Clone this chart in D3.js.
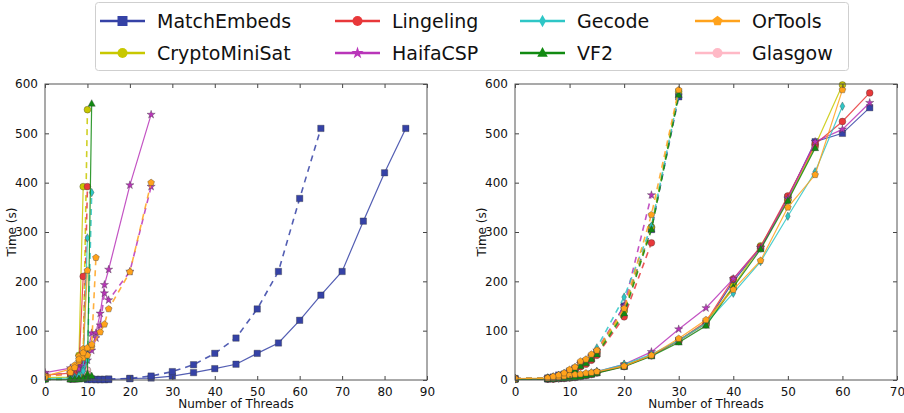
<!DOCTYPE html>
<html><head><meta charset="utf-8">
<script src="https://cdn.jsdelivr.net/npm/d3@7"></script>
<style>
body{margin:0;background:#fff;}
svg text{font-family:"DejaVu Sans",sans-serif;fill:#111;}
</style></head>
<body><svg id="c" width="904" height="413"></svg>
<script>
// ---------- DATA ----------
const solvers = ["MatchEmbeds","CryptoMiniSat","Lingeling","HaifaCSP","Gecode","VF2","OrTools","Glasgow"];
const leftXTicks = [0,10,20,30,40,50,60,70,80,90];
const rightXTicks = [0,10,20,30,40,50,60,70];
const yTicks = [0,100,200,300,400,500,600];
const xLabel = "Number of Threads";
const yLabel = "Time (s)";

// left panel, solid series  [threads, seconds]
const leftSolid = {
  Glasgow:      [[0,2],[6,2],[7,3],[8,4],[9,6],[10,20]],
  MatchEmbeds:  [[10,2],[11,2],[12,1],[13,1],[14,1],[15,1],[20,3],[25,4],[30,8],[35,15],[40,23],[45,32],[50,54],[55,75],[60,121],[65,172],[70,220],[75,322],[80,420],[85,510]],
  CryptoMiniSat:[[0,5],[6,6],[7,8],[8,50],[9,392]],
  Lingeling:    [[0,10],[6,14],[7,20],[8,28],[9,210]],
  HaifaCSP:     [[0,15],[6,24],[8,30],[9,40],[10,55],[11,95],[12,95],[13,135],[14,193],[15,224],[20,395],[25,538]],
  Gecode:       [[0,3],[6,4],[7,6],[8,10],[9,22],[10,288]],
  VF2:          [[0,1],[6,1],[7,1],[8,2],[9,3],[10,12],[11,560]],
  OrTools:      [[0,8],[6,22],[7,30],[8,48],[9,63],[10,222]]
};
// left panel, dashed series
const leftDashed = {
  Glasgow:      [[0,1],[6,2],[7,2],[8,3],[9,5],[10,12]],
  MatchEmbeds:  [[10,1],[11,1],[12,1],[13,1],[14,1],[15,2],[20,3],[25,8],[30,17],[35,31],[40,54],[45,85],[50,144],[55,220],[60,368],[65,510]],
  CryptoMiniSat:[[0,3],[6,4],[7,6],[8,10],[9,45],[10,548]],
  Lingeling:    [[0,8],[6,12],[7,16],[8,22],[9,30],[10,392]],
  HaifaCSP:     [[0,10],[6,14],[8,22],[9,30],[10,40],[11,60],[12,85],[13,111],[14,176],[15,162],[20,220],[25,392]],
  Gecode:       [[0,2],[6,3],[7,4],[8,8],[9,18],[10,40],[11,380]],
  VF2:          [[0,1],[6,1],[7,1],[8,1],[9,2],[10,4],[11,8]],
  OrTools:      [[0,5],[6,15],[7,25],[8,38],[9,45],[10,50],[11,67],[13,97],[14,113],[15,144],[20,219],[25,400]]
};
const leftDashedExtra = {
  OrTools:      [[8,42],[9,55],[10,65],[11,72],[12,248]]
};
// right panel, solid series
const rightSolid = {
  Glasgow:      [[0,2],[6,2],[7,2],[8,3],[9,3],[10,4],[11,5],[12,7],[13,9],[14,11],[15,14],[20,27],[25,49],[30,78],[35,112],[40,190],[45,266],[50,365],[55,472]],
  MatchEmbeds:  [[0,2],[6,2],[7,3],[8,3],[9,4],[10,5],[11,6],[12,8],[13,10],[14,12],[15,15],[20,28],[25,50],[30,80],[35,115],[40,200],[45,268],[50,370],[55,483],[60,500],[65,552]],
  CryptoMiniSat:[[0,2],[6,3],[7,3],[8,4],[9,5],[10,6],[11,7],[12,9],[13,11],[14,13],[15,16],[20,30],[25,50],[30,80],[35,115],[40,190],[45,272],[50,365],[55,475],[60,598]],
  Lingeling:    [[0,2],[6,2],[7,2],[8,3],[9,4],[10,5],[11,6],[12,8],[13,10],[14,12],[15,15],[20,28],[25,50],[30,80],[35,118],[40,205],[45,270],[50,373],[55,478],[60,524],[65,582]],
  HaifaCSP:     [[0,2],[6,3],[7,3],[8,4],[9,5],[10,6],[11,7],[12,9],[13,11],[14,14],[15,17],[20,32],[25,57],[30,103],[35,146],[40,205],[45,268],[50,368],[55,483],[60,508],[65,562]],
  Gecode:       [[0,2],[6,3],[7,3],[8,4],[9,5],[10,6],[11,7],[12,9],[13,11],[14,14],[15,17],[20,32],[25,52],[30,80],[35,115],[40,176],[45,240],[50,332],[55,422],[60,555]],
  VF2:          [[0,1],[6,2],[7,2],[8,3],[9,3],[10,4],[11,5],[12,7],[13,9],[14,11],[15,14],[20,27],[25,48],[30,76],[35,110],[40,188],[45,265],[50,363],[55,470]],
  OrTools:      [[0,3],[6,4],[7,5],[8,6],[9,8],[10,10],[11,11],[12,12],[13,14],[14,15],[15,17],[20,28],[25,50],[30,84],[35,122],[40,183],[45,242],[50,350],[55,416],[60,588]]
};
// right panel, dashed series
const rightDashed = {
  Glasgow:      [[0,3],[6,4],[7,5],[8,8],[9,11],[10,17],[11,23],[12,30],[13,37],[14,45],[15,55],[20,140],[25,310],[30,580]],
  MatchEmbeds:  [[0,3],[6,4],[7,6],[8,10],[9,12],[10,18],[11,24],[12,32],[13,38],[14,46],[15,56],[20,150],[25,305],[30,574]],
  CryptoMiniSat:[[0,3],[6,4],[7,5],[8,8],[9,11],[10,17],[11,22],[12,31],[13,37],[14,45],[15,55],[20,140],[25,310],[30,585]],
  Lingeling:    [[0,2],[6,3],[7,5],[8,7],[9,10],[10,15],[11,20],[12,27],[13,32],[14,40],[15,50],[20,128],[25,278]],
  HaifaCSP:     [[0,3],[6,4],[7,6],[8,9],[9,12],[10,18],[11,24],[12,33],[13,39],[14,48],[15,60],[20,150],[25,375]],
  Gecode:       [[0,3],[6,4],[7,6],[8,9],[9,13],[10,19],[11,25],[12,34],[13,40],[14,50],[15,65],[20,168],[25,312],[30,580]],
  VF2:          [[0,2],[6,3],[7,5],[8,7],[9,10],[10,15],[11,20],[12,28],[13,34],[14,42],[15,52],[20,135],[25,305],[30,578]],
  OrTools:      [[0,3],[6,4],[7,7],[8,10],[9,14],[10,21],[11,26],[12,38],[13,42],[14,52],[15,60],[20,145],[25,335],[30,588]]
};

// ---------- STYLE ----------
const colors = {MatchEmbeds:"#3542a6",CryptoMiniSat:"#c8c800",Lingeling:"#e8383a",HaifaCSP:"#b935b9",
  Gecode:"#2ec6c6",VF2:"#118a11",OrTools:"#ffa21c",Glasgow:"#ffb9c6"};
const markers = {MatchEmbeds:"square",CryptoMiniSat:"circle",Lingeling:"circle",HaifaCSP:"star",
  Gecode:"thindiamond",VF2:"triangle",OrTools:"pentagon",Glasgow:"circle"};

function poly(pts){return "M"+pts.map(p=>p[0].toFixed(2)+","+p[1].toFixed(2)).join("L")+"Z";}
function markerPath(type, r){
  if(type==="square") return poly([[-r,-r],[r,-r],[r,r],[-r,r]]);
  if(type==="circle") return d3.symbol(d3.symbolCircle, Math.PI*r*r)();
  if(type==="thindiamond") return poly([[0,-r*1.25],[r*0.7,0],[0,r*1.25],[-r*0.7,0]]);
  if(type==="triangle") return poly([[0,-r*1.2],[r*1.05,r*0.75],[-r*1.05,r*0.75]]);
  if(type==="pentagon"){const p=[];for(let i=0;i<5;i++){const a=-Math.PI/2+i*2*Math.PI/5;p.push([r*1.05*Math.cos(a),r*1.05*Math.sin(a)]);}return poly(p);}
  if(type==="star") return d3.symbol(d3.symbolStar, r*r*1.3)();
  return "";
}

const svg = d3.select("#c");

// ---------- LEGEND ----------
svg.append("rect").attr("x",95.5).attr("y",2.5).attr("width",753).attr("height",68)
  .attr("rx",3).attr("fill","#fff").attr("stroke","#cfcfcf").attr("stroke-width",1);
const legCols = [100,335,520,695];
const legRows = [21,53];
const legendOrder = ["MatchEmbeds","CryptoMiniSat","Lingeling","HaifaCSP","Gecode","VF2","OrTools","Glasgow"];
legendOrder.forEach((s,i)=>{
  const cx = legCols[Math.floor(i/2)], cy = legRows[i%2];
  const g = svg.append("g");
  g.append("line").attr("x1",cx).attr("x2",cx+45).attr("y1",cy).attr("y2",cy)
    .attr("stroke",colors[s]).attr("stroke-width",2.5);
  g.append("path").attr("d",markerPath(markers[s],markers[s]==="star"?6:5)).attr("transform",`translate(${cx+22.5},${cy})`)
    .attr("fill",colors[s]);
  g.append("text").attr("x",cx+57).attr("y",cy).attr("dy","0.35em").attr("font-size",19).text(s);
});

// ---------- PANELS ----------
function panel(x0,x1,y0,y1,xMax,xTicks,solid,dashed,extra,id){
  const x = d3.scaleLinear().domain([0,xMax]).range([x0,x1]);
  const y = d3.scaleLinear().domain([0,600]).range([y1,y0]);
  const g = svg.append("g");
  g.append("clipPath").attr("id",id).append("rect").attr("x",x0).attr("y",y0-4).attr("width",x1-x0+4).attr("height",y1-y0+8);
  const plot = g.append("g").attr("clip-path",`url(#${id})`);
  const line = d3.line().x(d=>x(d[0])).y(d=>y(d[1]));
  const order = ["Glasgow","MatchEmbeds","CryptoMiniSat","Lingeling","HaifaCSP","Gecode","VF2","OrTools"];
  function drawSeries(data, s, dash){
    plot.append("path").datum(data).attr("d",line).attr("fill","none")
      .attr("stroke",colors[s]).attr("stroke-width",dash?1.6:1.2)
      .attr("stroke-dasharray",dash?"6,5":null).attr("opacity",0.85);
    plot.selectAll(null).data(data).enter().append("path")
      .attr("d",markerPath(markers[s], markers[s]==="square"?3.2:(markers[s]==="star"?4:3.4)))
      .attr("transform",d=>`translate(${x(d[0])},${y(d[1])})`)
      .attr("fill",colors[s]).attr("stroke","#333").attr("stroke-width",0.5).attr("stroke-opacity",0.7);
  }
  order.forEach(s=>{
    if(solid[s]) drawSeries(solid[s], s, false);
    if(dashed[s]) drawSeries(dashed[s], s, true);
    if(extra && extra[s]) drawSeries(extra[s], s, true);
  });
  // axes with inward ticks
  const fmt = d3.format("d");
  const ax = [
    g.append("g").attr("transform",`translate(0,${y1})`).call(d3.axisBottom(x).tickValues(xTicks).tickSize(-4).tickPadding(7).tickFormat(fmt)),
    g.append("g").attr("transform",`translate(0,${y0})`).call(d3.axisTop(x).tickValues(xTicks).tickSize(-4).tickFormat("")),
    g.append("g").attr("transform",`translate(${x0},0)`).call(d3.axisLeft(y).tickValues(yTicks).tickSize(-4).tickPadding(7).tickFormat(fmt)),
    g.append("g").attr("transform",`translate(${x1},0)`).call(d3.axisRight(y).tickValues(yTicks).tickSize(-4).tickFormat(""))
  ];
  ax.forEach(a=>{a.select(".domain").remove(); a.selectAll("line").attr("stroke","#444"); a.selectAll("text").attr("font-size",12).attr("fill","#111").attr("font-family","DejaVu Sans, sans-serif");});
  g.append("rect").attr("x",x0).attr("y",y0).attr("width",x1-x0).attr("height",y1-y0)
    .attr("fill","none").attr("stroke","#555").attr("stroke-width",1);
  g.append("text").attr("x",(x0+x1)/2).attr("y",y1+24).attr("dy","0.35em").attr("text-anchor","middle").attr("font-size",12).text(xLabel);
  g.append("text").attr("transform",`translate(${x0-33},${(y0+y1)/2}) rotate(-90)`).attr("text-anchor","middle").attr("dy","0.35em").attr("font-size",12).text(yLabel);
}
panel(45,427,84,380,90,leftXTicks,leftSolid,leftDashed,leftDashedExtra,"clipL");
panel(515,897,84,380,70,rightXTicks,rightSolid,rightDashed,null,"clipR");
</script></body></html>
